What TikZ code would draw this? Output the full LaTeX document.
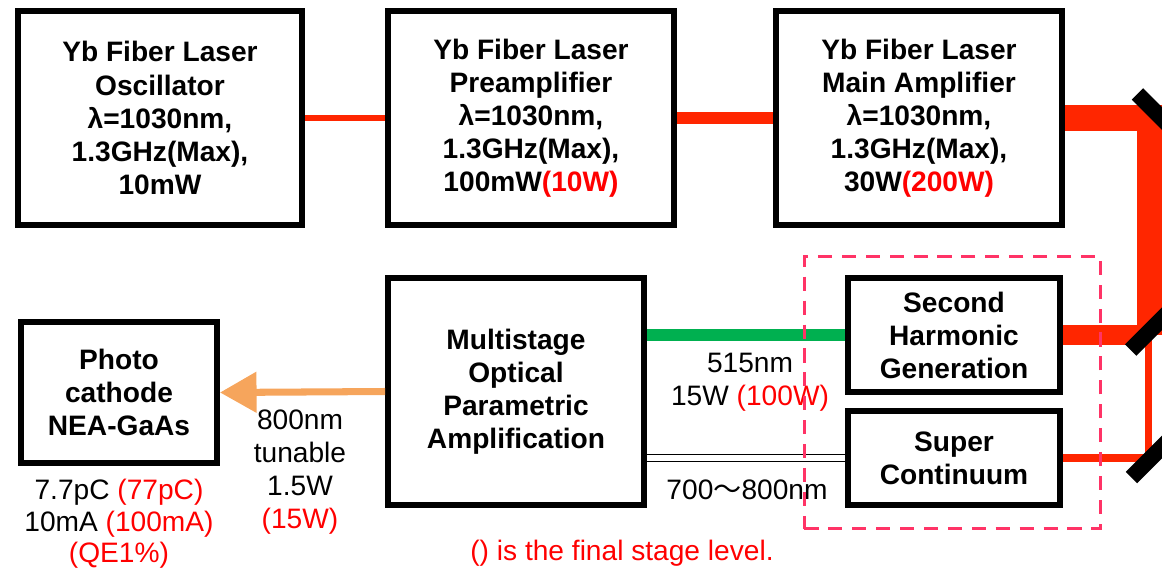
\documentclass[tikz,border=0pt]{standalone}
\usepackage{fontspec}
\setmainfont{Liberation Sans}
\newfontfamily\cjk{Noto Sans CJK JP}
\usepackage{xcolor}
\usepackage{tikz}
\usetikzlibrary{arrows.meta}
\definecolor{beamRed}{HTML}{FF2600}
\definecolor{noteRed}{HTML}{FF0000}
\definecolor{shgGreen}{HTML}{00B050}
\definecolor{opaOrange}{HTML}{F6A55C}
\definecolor{selPink}{HTML}{FF3366}
\tikzset{
  stagebox/.style={rectangle, draw=black, line width=4.2pt, align=center, font=\fontsize{20}{23.5}\selectfont\bfseries, inner sep=2pt},
  notelabel/.style={align=center, font=\fontsize{20}{23.5}\selectfont, inner sep=1pt},
  beamline/.style={draw=beamRed, line width=#1},
  greenbeam/.style={draw=shgGreen, line width=8.5pt},
  whitebeam/.style={draw=black, line width=1pt, double=white, double distance=4pt},
  pumparrow/.style={draw=opaOrange, line width=5pt, -{Triangle[length=26pt,width=28pt]}},
  % --- optics ---
  mirrorbar/.style={rectangle, fill=black, minimum width=40pt, minimum height=11.4pt, inner sep=0pt},
  selbox/.style={rectangle, draw=selPink, line width=2.1pt, dash pattern=on 10pt off 7pt},
}
\begin{document}
\begin{tikzpicture}[x=0.025cm,y=-0.025cm]
  \useasboundingbox (0,0) rectangle (1162,573);

  \node[stagebox, minimum width=7.1cm, minimum height=5.35cm] (osc) at (160,118) {Yb Fiber Laser\\Oscillator\\λ=1030nm,\\1.3GHz(Max),\\10mW};
  \node[stagebox, minimum width=7.15cm, minimum height=5.35cm] (pre) at (531,118) {Yb Fiber Laser\\Preamplifier\\λ=1030nm,\\1.3GHz(Max),\\100mW{\color{noteRed}(10W)}};
  \node[stagebox, minimum width=7.15cm, minimum height=5.35cm] (main) at (919,118) {Yb Fiber Laser\\Main Amplifier\\λ=1030nm,\\1.3GHz(Max),\\30W{\color{noteRed}(200W)}};
  \node[stagebox, minimum width=5.3cm, minimum height=2.85cm] (shg) at (954,335) {Second\\Harmonic\\Generation};
  \node[stagebox, minimum width=5.3cm, minimum height=2.35cm] (sc) at (954,458) {Super\\Continuum};
  \node[stagebox, minimum width=6.4cm, minimum height=5.675cm] (mopa) at (516,391.5) {Multistage\\Optical\\Parametric\\Amplification};
  \node[stagebox, minimum width=4.9cm, minimum height=3.525cm] (cathode) at (119,392.5) {Photo\\cathode\\NEA-GaAs};

  \coordinate (turnA) at (1149.5,118);
  \coordinate (turnB) at (1149.5,335);
  \coordinate (turnC) at (1148,338);
  \coordinate (turnD) at (1148,458);

  \draw[beamline=3.9pt] (osc.east) -- (pre.west);
  \draw[beamline=8pt] (pre.east) -- (main.west);
  \draw[beamline=17.8pt] (main.east) -- (turnA) -- (turnB);
  \draw[beamline=14.2pt] (turnB) -- (shg.east);
  \draw[beamline=5pt] (turnC) -- (turnD) -- (sc.east);
  \draw[greenbeam] (shg.west -| mopa.east) -- (shg.west);
  \draw[whitebeam] (sc.west -| mopa.east) -- (sc.west);
  \draw[pumparrow] (mopa.west) -- (cathode.east);

  \node[mirrorbar, rotate=-45] (mirA) at (1157.3,113.8) {};
  \node[mirrorbar, rotate=45] (mirB) at (1150.5,330.2) {};
  \node[mirrorbar, rotate=45] (mirC) at (1151.3,457.7) {};

  \node[notelabel] (shglabel) at (750,382) {515nm\\15W {\color{noteRed}(100W)}};
  \node[notelabel] (sclabel) at (747,490) {700{\cjk ～}800nm};
  \node[notelabel] (opalabel) at (300,472) {800nm\\tunable\\1.5W\\{\color{noteRed}(15W)}};
  \node[notelabel, font=\fontsize{20}{22.5}\selectfont] (cathlabel) at (119,524) {7.7pC {\color{noteRed}(77pC)}\\10mA {\color{noteRed}(100mA)}\\{\color{noteRed}(QE1\%)}};
  \node[notelabel, text=noteRed] (note) at (622,553) {() is the final stage level.};

  \node[selbox, minimum width=7.4cm, minimum height=6.8cm] (sel) at (952.5,392.5) {};
\end{tikzpicture}
\end{document}
